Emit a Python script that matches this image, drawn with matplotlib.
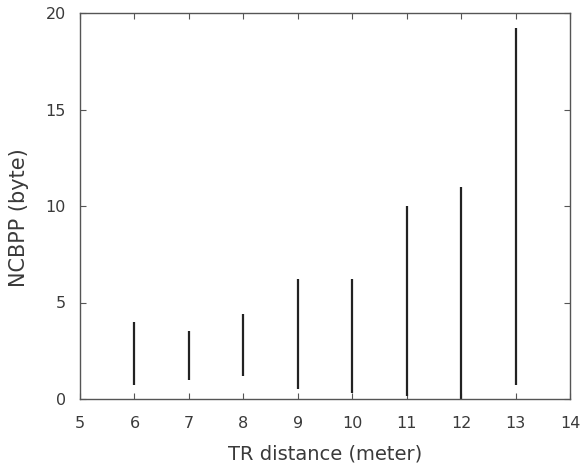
import numpy as np
import matplotlib
matplotlib.use("Agg")
import matplotlib.pyplot as plt

# TR distance (meter) and NCBPP range (byte) at each distance
distance = [6, 7, 8, 9, 10, 11, 12, 13]
ncbpp_min = [0.75, 1.0, 1.2, 0.5, 0.3, 0.15, 0.0, 0.75]
ncbpp_max = [4.0, 3.5, 4.4, 6.2, 6.2, 10.0, 11.0, 19.2]

plt.rcParams['font.family'] = ['DejaVu Sans']

fig = plt.figure(figsize=(5.81, 4.66), dpi=100)
ax = fig.add_axes([80 / 581, 1 - 399 / 466, 490 / 581, 386 / 466])

ax.vlines(distance, ncbpp_min, ncbpp_max, colors="#222222", linewidth=1.6)

ax.set_xlim(5, 14)
ax.set_ylim(0, 20)
ax.set_xticks(np.arange(5, 15, 1))
ax.set_yticks([0, 5, 10, 15, 20])

for spine in ax.spines.values():
    spine.set_color("#555555")
    spine.set_linewidth(1.0)
ax.tick_params(direction="in", top=True, right=True, length=4, width=0.8,
               color="#555555", labelsize=11.5, labelcolor="#3a3a3a")
ax.tick_params(axis="x", pad=12)
ax.tick_params(axis="y", pad=10)

ax.set_xlabel("TR distance (meter)", fontsize=14, labelpad=10, color="#3a3a3a")
ax.set_ylabel("NCBPP (byte)", fontsize=15, color="#3a3a3a")
ax.yaxis.set_label_coords(-0.105, 0.47)

fig.savefig("out.png", dpi=100)
plt.close()
